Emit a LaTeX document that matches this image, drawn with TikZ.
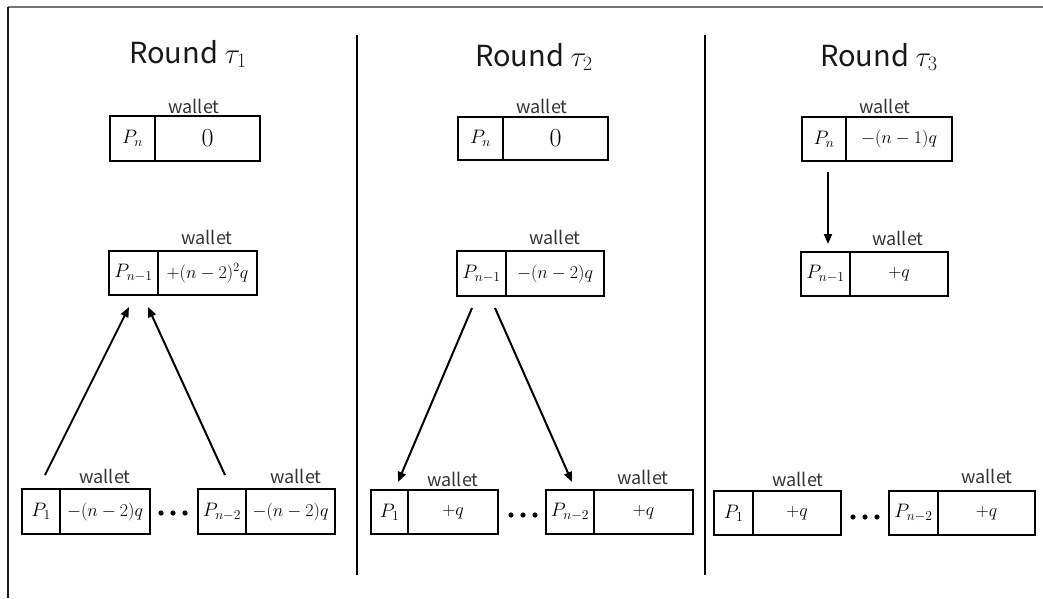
\RequirePackage{fix-cm}
\documentclass[tikz,border=0pt]{standalone}
\usepackage{fontspec}
\setsansfont{Noto Sans CJK JP}
\usetikzlibrary{arrows.meta}

% one participant: name cell, value cell and the "wallet" caption
% #1 name, #2 left x, #3 divider x, #4 right x, #5 top y, #6 bottom y,
% #7 participant, #8 balance, #9 caption position
\newcommand\walletbox[9]{%
  \node[cellbox, minimum width={#3-#2}, minimum height={#6-#5},
    font=\fontsize{19.5}{19.5}\selectfont] (#1p)
    at ({(#2+#3)/2},{(#5+#6)/2}) {$#7$};
  \node[cellbox, minimum width={#4-#3}, minimum height={#6-#5}] (#1v)
    at ({(#3+#4)/2},{(#5+#6)/2}) {#8};
  \node[wlabel] (#1w) at #9 {wallet};
}

\begin{document}
\begin{tikzpicture}[x=1pt,y=-1pt,
  cellbox/.style={draw=black, line width=2pt, inner sep=0pt,
    font=\fontsize{18}{18}\selectfont},
  wlabel/.style={anchor=base, inner sep=0pt, text=black!80,
    font=\sffamily\fontsize{18}{18}\selectfont},
  rtitle/.style={anchor=base, inner sep=0pt, text=black!90,
    font=\sffamily\fontsize{29}{29}\selectfont},
  divider/.style={line width=2pt, black},
  flow/.style={line width=2pt, -{Triangle[length=10pt,width=8pt]}},
]
\useasboundingbox (0,0) rectangle (1043,598);

% frame
\draw[line width=2pt, black!55] (8,7) -- (1043,7);
\draw[line width=2pt, black!90] (8,7) -- (8,598);

% column separators
\draw[divider] (357,35) -- (357,575);
\draw[divider] (705,35) -- (705,575);

% titles
\node[rtitle] (t1) at (188,63) {Round $\tau_1$};
\node[rtitle] (t2) at (534,66) {Round $\tau_2$};
\node[rtitle] (t3) at (879,66) {Round $\tau_3$};

% ---- round 1
\walletbox{ra}{110}{155}{260}{116}{161}{P_n}{\fontsize{26}{26}\selectfont$0$}{(194,113.5)}
\walletbox{rb}{109}{158}{257}{251}{295}{P_{n-1}}{$+(n-2)^2q$}{(207,244)}
\walletbox{rc}{22}{60}{150}{489}{534}{P_1}{$-(n-2)q$}{(105,483)}
\walletbox{rd}{198}{246}{335}{489}{534}{P_{n-2}}{$-(n-2)q$}{(296,483)}
\foreach \x in {161,173,185} \fill (\x,513) circle (2.6);

\coordinate (a1s) at (45,475);  \coordinate (a1e) at (129,307);
\coordinate (a2s) at (225,475); \coordinate (a2e) at (148,307);
\draw[flow] (a1s) -- (a1e);
\draw[flow] (a2s) -- (a2e);

% ---- round 2
\walletbox{sa}{458}{503}{608}{117}{160}{P_n}{\fontsize{26}{26}\selectfont$0$}{(542,113)}
\walletbox{sb}{457}{506}{604}{251}{296}{P_{n-1}}{$-(n-2)q$}{(555,244)}
\walletbox{sc}{371}{408}{498}{490}{534}{P_1}{$+q$}{(453,486)}
\walletbox{sd}{546}{594}{693}{490}{534}{P_{n-2}}{$+q$}{(643,484)}
\foreach \x in {511,523,535} \fill (\x,515) circle (2.6);

\coordinate (b1s) at (472,308); \coordinate (b1e) at (398,482);
\coordinate (b2s) at (495,308); \coordinate (b2e) at (572,482);
\draw[flow] (b1s) -- (b1e);
\draw[flow] (b2s) -- (b2e);

% ---- round 3
\walletbox{ua}{802}{846}{952}{117}{161}{P_n}{$-(n-1)q$}{(885,113)}
\walletbox{ub}{801}{850}{948}{252}{296}{P_{n-1}}{$+q$}{(898,245)}
\walletbox{uc}{714}{753}{841}{491}{535}{P_1}{$+q$}{(798,486)}
\walletbox{ud}{889}{938}{1035}{491}{535}{P_{n-2}}{$+q$}{(987,483)}
\foreach \x in {853,865,877} \fill (\x,517) circle (2.6);

\coordinate (cs) at (828,172); \coordinate (ce) at (828,244);
\draw[flow] (cs) -- (ce);
\end{tikzpicture}
\end{document}
